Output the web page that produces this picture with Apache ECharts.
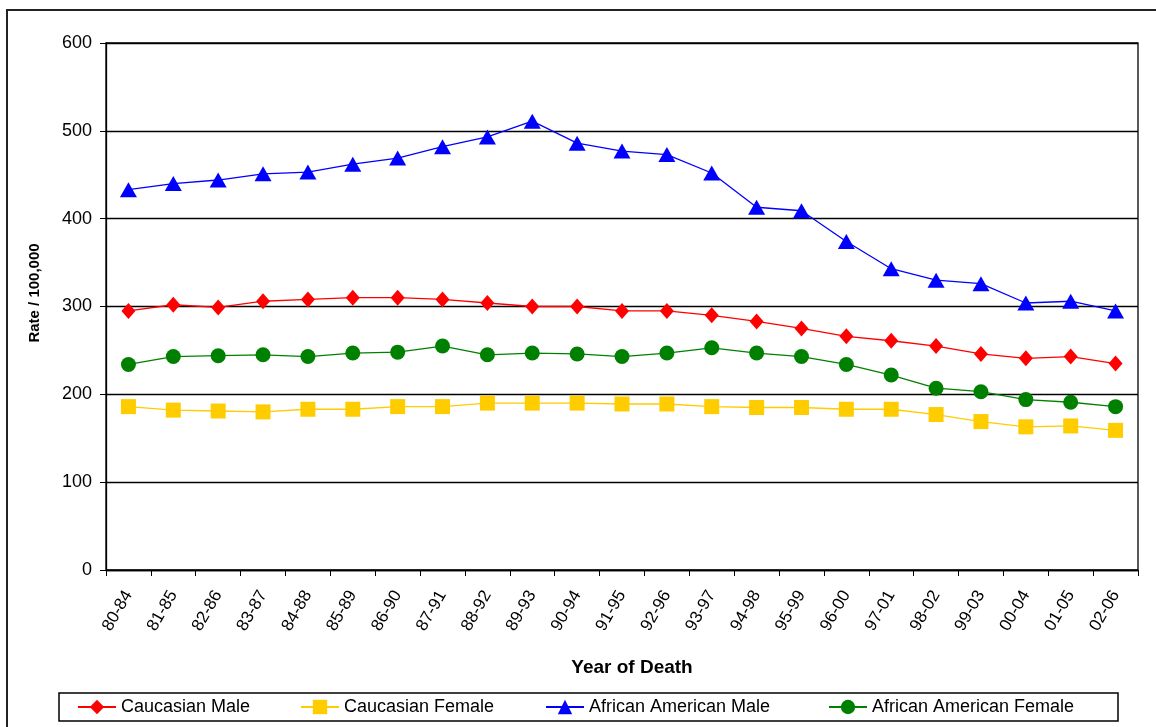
<!DOCTYPE html>
<html>
<head>
<meta charset="utf-8">
<script src="https://cdn.jsdelivr.net/npm/echarts@6/dist/echarts.min.js"></script>
<style>
html,body{margin:0;padding:0;background:#fff;}
#chart{width:1156px;height:727px;}
</style>
</head>
<body>
<div id="chart"></div>
<script>
const categories = ['80-84','81-85','82-86','83-87','84-88','85-89','86-90','87-91','88-92','89-93','90-94','91-95','92-96','93-97','94-98','95-99','96-00','97-01','98-02','99-03','00-04','01-05','02-06'];
const caucasianMale = [295,302,299,306,308,310,310,308,304,300,300,295,295,290,283,275,266,261,255,246,241,243,235];
const caucasianFemale = [186,182,181,180,183,183,186,186,190,190,190,189,189,186,185,185,183,183,177,169,163,164,159];
const africanAmericanMale = [433,440,444,451,453,462,469,482,493,511,486,477,473,452,413,409,374,343,330,326,304,306,295];
const africanAmericanFemale = [234,243,244,245,243,247,248,255,245,247,246,243,247,253,247,243,234,222,207,203,194,191,186];
const yTicks = [0,100,200,300,400,500,600];

const FONT = 'Arial, "Liberation Sans", sans-serif';
const chart = echarts.init(document.getElementById('chart'));

function series(name, data, color, symbol, size) {
  return {
    name: name, type: 'line', data: data,
    symbol: symbol, symbolSize: size,
    lineStyle: { color: color, width: 1.3 },
    itemStyle: { color: color },
    emphasis: { disabled: true },
    animation: false
  };
}
function legend(name, left) {
  return {
    data: [name], left: left, top: 698, padding: 0,
    itemWidth: 38, itemHeight: 18, itemGap: 0,
    textStyle: { fontFamily: FONT, fontSize: 18, color: '#000', padding: [0,0,0,0] },
    selectedMode: false
  };
}

chart.setOption({
  backgroundColor: '#fff',
  animation: false,
  grid: { left: 106, right: 18, top: 43, bottom: 157, show: true, borderColor: '#000', borderWidth: 1.3 },
  xAxis: {
    type: 'category', data: categories, boundaryGap: true,
    axisLine: { lineStyle: { color: '#000', width: 1.3 } },
    axisTick: { show: true, length: 6, lineStyle: { color: '#000' } },
    axisLabel: { rotate: 60, margin: 22, fontFamily: FONT, fontSize: 17, color: '#000', interval: 0 },
    splitLine: { show: false }
  },
  yAxis: {
    type: 'value', min: yTicks[0], max: yTicks[yTicks.length-1], interval: 100,
    axisLine: { show: true, lineStyle: { color: '#000', width: 1.3 } },
    axisTick: { show: true, length: 6, lineStyle: { color: '#000' } },
    axisLabel: { margin: 14, fontFamily: FONT, fontSize: 18, color: '#000' },
    splitLine: { show: true, lineStyle: { color: '#000', width: 1.3 } }
  },
  legend: [
    legend('Caucasian Male', 77),
    legend('Caucasian Female', 300),
    legend('African American Male', 545),
    legend('African American Female', 828)
  ],
  graphic: [
    { type: 'rect', shape: { x: 7, y: 10, width: 1170, height: 740 }, style: { fill: 'none', stroke: '#222', lineWidth: 2 }, silent: true },
    { type: 'rect', shape: { x: 59, y: 693, width: 1059, height: 28 }, style: { fill: 'none', stroke: '#000', lineWidth: 1.5 }, silent: true },
    { type: 'text', x: 35, y: 293, rotation: Math.PI/2, style: { text: 'Rate / 100,000', fontFamily: FONT, fontSize: 15, fontWeight: 'bold', fill: '#000', textAlign: 'center', textVerticalAlign: 'middle' }, silent: true },
    { type: 'text', x: 632, y: 668, style: { text: 'Year of Death', fontFamily: FONT, fontSize: 19, fontWeight: 'bold', fill: '#000', textAlign: 'center', textVerticalAlign: 'middle' }, silent: true }
  ],
  series: [
    series('Caucasian Male', caucasianMale, '#FF0000', 'diamond', [14,16]),
    series('Caucasian Female', caucasianFemale, '#FFCC00', 'rect', [15,15]),
    series('African American Male', africanAmericanMale, '#0000FF', 'triangle', [17,15]),
    series('African American Female', africanAmericanFemale, '#008000', 'circle', 15)
  ]
});
</script>
</body>
</html>
